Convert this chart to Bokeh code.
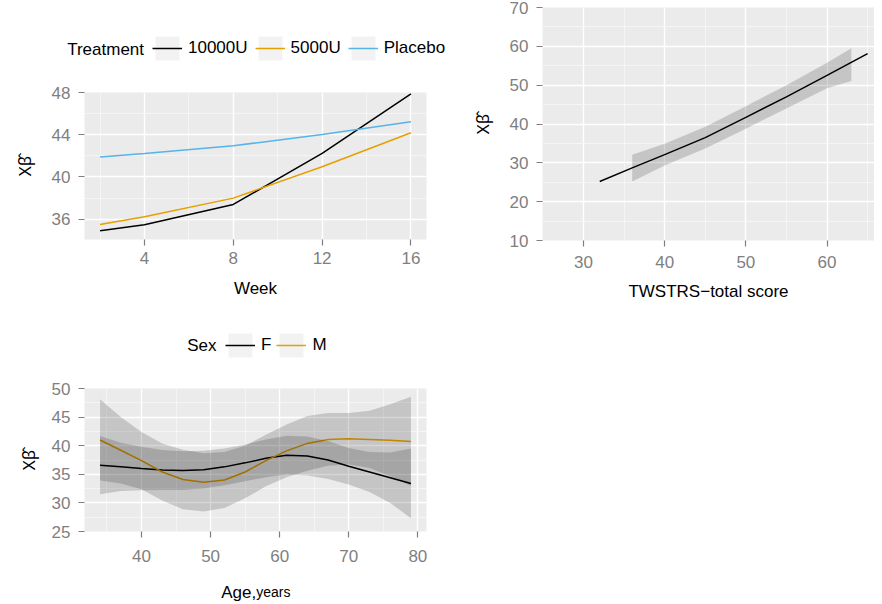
from bokeh.plotting import figure
from bokeh.models import FixedTicker, Range1d, Legend, LegendItem, Label
from bokeh.embed import file_html
from bokeh.resources import INLINE

FONT = "Liberation Sans"
YFONT = "Noto Sans"
PANEL_BG = "#EBEBEB"
TICK_GRAY = "#7F7F7F"
ORANGE = "#E69F00"
BLUE = "#56B4E9"
KEY_BG = "#F2F2F2"
YLAB = "X\u03b2\u0302"

# ---- Panel 1: Week x Treatment ----
weeks = [2, 4, 8, 12, 16]
trt_labels = ["10000U", "5000U", "Placebo"]
trt_10000 = [34.89, 35.46, 37.39, 42.23, 47.86]
trt_5000 = [35.50, 36.22, 37.99, 40.96, 44.19]
trt_placebo = [41.88, 42.23, 42.95, 44.03, 45.23]
week_ticks = [4, 8, 12, 16]
week_minor = [2, 6, 10, 14]
p1_yticks = [36, 40, 44, 48]
p1_yminor = [34, 38, 42, 46]

# ---- Panel 2: TWSTRS total score ----
tw_x = [32, 36, 40, 45, 50, 55, 60, 65]
tw_y = [25.2, 28.7, 32.1, 36.5, 41.7, 47.0, 52.5, 58.1]
tw_band_x = [36, 40, 45, 50, 55, 60, 63]
tw_lower = [25.2, 29.3, 33.7, 38.8, 44.0, 49.2, 51.1]
tw_upper = [32.1, 34.9, 39.3, 44.6, 50.0, 55.8, 59.5]
tw_xticks = [30, 40, 50, 60]
tw_xminor = [25, 35, 45, 55, 65]
tw_yticks = [10, 20, 30, 40, 50, 60, 70]
tw_yminor = [15, 25, 35, 45, 55, 65]

# ---- Panel 3: Age x Sex ----
sex_labels = ["F", "M"]
age = [34, 37, 40, 43, 46, 49, 52, 55, 58, 61, 64, 67, 70, 73, 76, 79]
sex_f = [36.6, 36.3, 36.0, 35.75, 35.65, 35.8, 36.3, 37.0, 37.8, 38.35, 38.2, 37.5, 36.4, 35.4, 34.4, 33.4]
sex_m = [41.0, 39.2, 37.4, 35.4, 34.1, 33.6, 34.0, 35.4, 37.4, 39.1, 40.4, 41.1, 41.2, 41.1, 40.95, 40.75]
f_lower = [31.5, 32.1, 32.2, 32.25, 32.25, 32.5, 33.1, 33.8, 34.5, 34.95, 34.8, 34.2, 33.2, 31.9, 30.0, 27.3]
f_upper = [41.7, 40.5, 39.8, 39.25, 39.05, 39.1, 39.5, 40.2, 41.1, 41.75, 41.6, 40.8, 39.6, 38.9, 38.8, 39.5]
m_lower = [33.9, 33.4, 32.4, 30.4, 28.9, 28.5, 29.1, 30.8, 32.9, 34.5, 35.6, 36.5, 36.7, 36.1, 34.65, 32.95]
m_upper = [48.1, 45.0, 42.4, 40.4, 39.3, 38.7, 38.9, 40.0, 41.9, 43.7, 45.2, 45.7, 45.7, 46.1, 47.25, 48.55]
age_xticks = [40, 50, 60, 70, 80]
age_xminor = [35, 45, 55, 65, 75]
age_yticks = [25, 30, 35, 40, 45, 50]
age_yminor = [27.5, 32.5, 37.5, 42.5, 47.5]


def style(p, xt, xm, yt, ym, xstand, ystand=8):
    p.background_fill_color = PANEL_BG
    p.border_fill_color = "white"
    p.outline_line_color = None
    xtk = FixedTicker(ticks=xt, minor_ticks=xm)
    ytk = FixedTicker(ticks=yt, minor_ticks=ym)
    p.xaxis.ticker = xtk
    p.yaxis.ticker = ytk
    p.xgrid.ticker = xtk
    p.ygrid.ticker = ytk
    for ax in p.axis:
        ax.axis_line_color = None
        ax.major_tick_line_color = TICK_GRAY
        ax.major_tick_line_width = 1.2
        ax.major_tick_out = 6
        ax.major_tick_in = 0
        ax.minor_tick_line_color = None
        ax.major_label_text_color = TICK_GRAY
        ax.major_label_text_font = FONT
        ax.major_label_text_font_size = "17px"
        ax.axis_label_text_font = FONT
        ax.axis_label_text_font_size = "17px"
        ax.axis_label_text_font_style = "normal"
        ax.axis_label_text_color = "black"
    p.yaxis.axis_label_text_font = YFONT
    p.xaxis.major_label_standoff = xstand
    p.yaxis.major_label_standoff = ystand
    p.grid.grid_line_color = "white"
    p.grid.grid_line_width = 1.4
    p.grid.minor_grid_line_color = "#F7F7F7"
    p.grid.minor_grid_line_width = 0.8


def text_strip(width, height):
    # a blank strip (no axes) used for legends and titles outside a panel;
    # its ranges lie outside all data so proxy glyphs stay hidden
    f = figure(frame_width=width, frame_height=height, x_axis_type=None, y_axis_type=None,
               x_range=Range1d(-2, -1), y_range=Range1d(-2, -1),
               min_border_left=0, min_border_right=0, min_border_top=0, min_border_bottom=0,
               output_backend="svg", toolbar_location=None, title=None)
    f.outline_line_color = None
    f.background_fill_color = "white"
    f.border_fill_color = "white"
    f.grid.visible = False
    return f


def add_text(f, x, y, text, size="17px", baseline="middle"):
    f.add_layout(Label(x=x, y=y, x_units="screen", y_units="screen", text=text,
                       text_font=FONT, text_font_size=size, text_color="black",
                       text_baseline=baseline, text_align="left"))


def legend_strip(width, height, title, title_x, title_y, labels, colors, xs, ys,
                 loc, spacing, label_width):
    f = text_strip(width, height)
    items = []
    for lab, col, yv in zip(labels, colors, ys):
        bg = f.rect(x=xs, y=yv, width=1, height=1, fill_color=KEY_BG, line_color=None)
        r = f.line(x=xs, y=yv, line_color=col, line_width=1.5)
        items.append(LegendItem(label=lab, renderers=[bg, r]))
    leg = Legend(items=items, orientation="horizontal", location=loc,
                 glyph_width=30, glyph_height=30, label_standoff=6,
                 spacing=spacing, padding=0, margin=0, label_width=label_width,
                 background_fill_alpha=0, border_line_color=None,
                 label_text_font=FONT, label_text_font_size="17px",
                 label_text_color="black")
    f.add_layout(leg)
    add_text(f, title_x, title_y, title)
    return f


# ---------- Legend strip for panel 1 (page y 0-82) ----------
l1 = legend_strip(470, 82, "Treatment", 66.7, 33.5, trt_labels, ["black", ORANGE, BLUE],
                  weeks, [trt_10000, trt_5000, trt_placebo], (152, 19), 7, 20)

# ---------- Panel 1 (page y 82-302) ----------
p1 = figure(frame_width=342, frame_height=147,
            x_range=Range1d(1.3, 16.7), y_range=Range1d(34.07, 48.0),
            min_border_left=84, min_border_right=15, min_border_top=10, min_border_bottom=72,
            output_backend="svg", toolbar_location=None, title=None,
            margin=(0, 0, -9, 0))
style(p1, week_ticks, week_minor, p1_yticks, p1_yminor, xstand=6)
p1.xaxis.axis_label = "Week"
p1.xaxis.axis_label_standoff = 12
p1.yaxis.axis_label = YLAB
p1.yaxis.axis_label_standoff = 13
p1.line(weeks, trt_10000, line_color="black", line_width=1.5)
p1.line(weeks, trt_5000, line_color=ORANGE, line_width=1.5)
p1.line(weeks, trt_placebo, line_color=BLUE, line_width=1.5)

# ---------- Legend strip for panel 3 (page y 302-378) ----------
l3 = legend_strip(441, 76, "Sex", 186.7, 32.7, sex_labels, ["black", ORANGE],
                  age, [sex_f, sex_m], (225, 17.7), 5, 0)

# ---------- Panel 3 (page y 378-567) ----------
p3 = figure(frame_width=342, frame_height=143,
            x_range=Range1d(31.75, 81.25), y_range=Range1d(25, 50),
            min_border_left=84, min_border_right=15, min_border_top=10, min_border_bottom=44,
            output_backend="svg", toolbar_location=None, title=None,
            margin=(0, 0, -8, 0))
style(p3, age_xticks, age_xminor, age_yticks, age_yminor, xstand=12)
p3.yaxis.axis_label = YLAB
p3.yaxis.axis_label_standoff = 9
p3.line(age, sex_f, line_color="black", line_width=1.5)
p3.line(age, sex_m, line_color=ORANGE, line_width=1.5)
p3.varea(x=age, y1=f_lower, y2=f_upper, fill_color="black", fill_alpha=0.16)
p3.varea(x=age, y1=m_lower, y2=m_upper, fill_color="black", fill_alpha=0.16)

# ---------- x-axis title strip for panel 3 (page y 567-603) ----------
x3 = text_strip(441, 36)
add_text(x3, 220.7, 11.3, "Age,", "17px", "alphabetic")
add_text(x3, 255.7, 11.3, "years", "14px", "alphabetic")

# ---------- Panel 2 (page y 0-302, x 441-874) ----------
p2 = figure(frame_width=332, frame_height=233,
            x_range=Range1d(24.95, 65.85), y_range=Range1d(10, 70),
            min_border_left=101, min_border_right=0, min_border_top=7, min_border_bottom=70,
            output_backend="svg", toolbar_location=None, title=None,
            margin=(-603, 0, 0, 441))
style(p2, tw_xticks, tw_xminor, tw_yticks, tw_yminor, xstand=9)
p2.border_fill_alpha = 0
p2.xaxis.axis_label = "TWSTRS\u2212total score"
p2.xaxis.axis_label_standoff = 11
p2.yaxis.axis_label = YLAB
p2.yaxis.axis_label_standoff = 13
p2.varea(x=tw_band_x, y1=tw_lower, y2=tw_upper, fill_color="black", fill_alpha=0.16)
p2.line(tw_x, tw_y, line_color="black", line_width=1.5)

open("out.html", "w").write(file_html([l1, p1, l3, p3, x3, p2], INLINE))
